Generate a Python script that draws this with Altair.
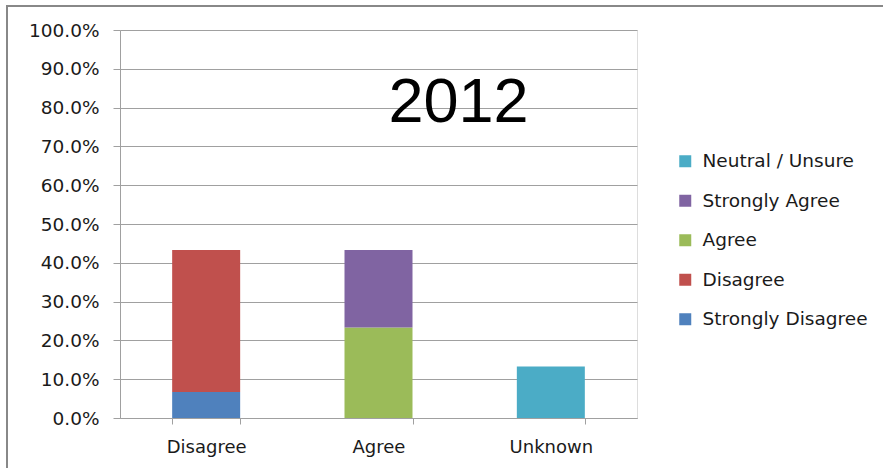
import altair as alt
import pandas as pd

categories = ["Disagree", "Disagree", "Agree", "Agree", "Unknown"]
responses = ["Strongly Disagree", "Disagree", "Agree", "Strongly Agree", "Neutral / Unsure"]
values = [0.067, 0.366, 0.233, 0.200, 0.133]
stack_order = [1, 2, 3, 4, 5]

category_order = ["Disagree", "Agree", "Unknown"]
legend_order = ["Neutral / Unsure", "Strongly Agree", "Agree", "Disagree", "Strongly Disagree"]
legend_colors = ["#4BACC6", "#8064A2", "#9BBB59", "#C0504D", "#4F81BD"]
y_ticks = [i / 10 for i in range(11)]

df = pd.DataFrame({
    "category": categories,
    "response": responses,
    "value": values,
    "order": stack_order,
})

GRID = "#a0a0a0"
FONT = "DejaVu Sans"

bars = alt.Chart(df).mark_bar(size=68).encode(
    x=alt.X(
        "category:N",
        sort=category_order,
        scale=alt.Scale(paddingInner=0.605, paddingOuter=0.3025),
        axis=alt.Axis(
            title=None, labelAngle=0, tickBand="extent", grid=False,
            domainColor=GRID, tickColor=GRID, tickSize=6, labelPadding=14,
            labelFont=FONT, labelFontSize=18, labelColor="#1a1a1a",
        ),
    ),
    y=alt.Y(
        "value:Q",
        stack="zero",
        scale=alt.Scale(domain=[0, 1], nice=False),
        axis=alt.Axis(
            title=None, values=y_ticks, format=".1%", grid=True, gridColor=GRID,
            domainColor=GRID, tickColor=GRID, tickSize=7, labelPadding=14,
            labelFont=FONT, labelFontSize=18.5, labelColor="#1a1a1a",
        ),
    ),
    color=alt.Color(
        "response:N",
        scale=alt.Scale(domain=legend_order, range=legend_colors),
        legend=alt.Legend(
            title=None, orient="none", legendX=556, legendY=122, padding=0,
            symbolType="square", symbolSize=144, symbolStrokeWidth=0,
            labelFont=FONT, labelFontSize=18.5, labelColor="#1a1a1a",
            labelOffset=8, rowPadding=20.5, labelLimit=400,
        ),
    ),
    order=alt.Order("order:Q", sort="ascending"),
)

frame = alt.Chart(alt.Data(values=[{}])).mark_rect(
    filled=False, stroke="#888888", strokeWidth=2, clip=False
).encode(
    x=alt.value(-113), x2=alt.value(800), y=alt.value(-24), y2=alt.value(500)
)

chart = alt.layer(frame, bars).properties(
    width=517,
    height=388,
    autosize=alt.AutoSizeParams(type="none"),
    padding={"left": 120, "top": 30, "right": 246, "bottom": 50},
    title=alt.TitleParams(
        "2012", font="Liberation Sans", fontSize=63, fontWeight="normal",
        color="black", anchor="middle", frame="group", orient="top",
        baseline="alphabetic", offset=0, dx=80, dy=180,
    ),
).configure_view(stroke=None).configure(background="white")

chart.save("out.html", embed_options={"renderer": "svg", "actions": False})
